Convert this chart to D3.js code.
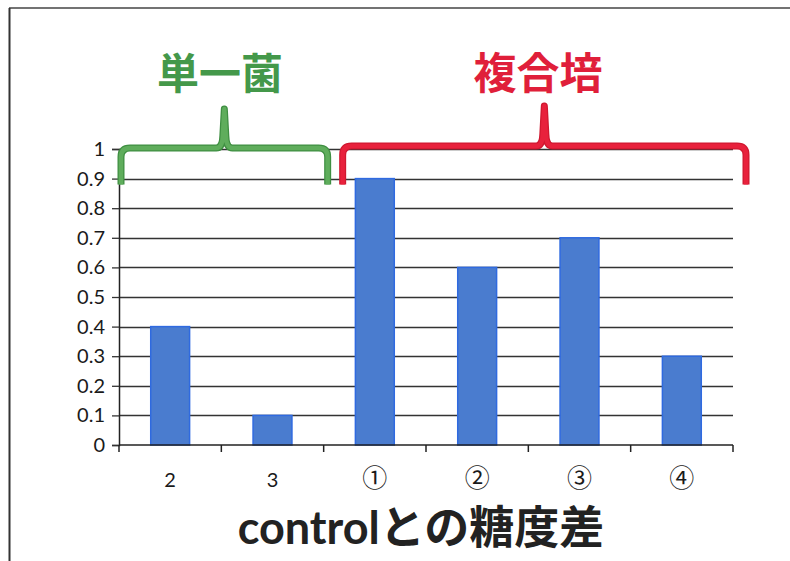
<!DOCTYPE html>
<html>
<head>
<meta charset="utf-8">
<script src="https://cdn.jsdelivr.net/npm/d3@7"></script>
<style>
  html, body { margin: 0; padding: 0; background: #fff; }
  svg { display: block; }
</style>
</head>
<body>
<svg id="chart" width="790" height="561"></svg>
<script>
// Sugar-content difference vs. control, per culture
const categories = ["2", "3", "①", "②", "③", "④"];
const values = [0.4, 0.1, 0.9, 0.6, 0.7, 0.3];
const yTicks = [0, 0.1, 0.2, 0.3, 0.4, 0.5, 0.6, 0.7, 0.8, 0.9, 1];
const groups = [
  { label: "単一菌", from: "2", to: "3", color: "#5fad5c", dark: "#3f8f42", text: "#44984a" },
  { label: "複合培", from: "①", to: "④", color: "#e8213c", dark: "#d01830", text: "#e01f3a" }
];
const axisTitle = "controlとの糖度差";

const svg = d3.select("#chart");
const W = 790, H = 561;
const plot = { left: 119, right: 733, top: 149, bottom: 445 };

// outer frame: top and left edges
svg.append("line").attr("x1", 9).attr("x2", W).attr("y1", 8).attr("y2", 8)
  .attr("stroke", "#444").attr("stroke-width", 1.5);
svg.append("line").attr("x1", 9.5).attr("x2", 9.5).attr("y1", 8).attr("y2", H)
  .attr("stroke", "#333").attr("stroke-width", 2);

const x = d3.scaleBand().domain(categories).range([plot.left, plot.right]).paddingInner(0.62).paddingOuter(0.31);
const xEdge = d3.scaleBand().domain(categories).range([plot.left, plot.right]).padding(0);
const y = d3.scaleLinear().domain([0, 1]).range([plot.bottom, plot.top]);

// gridlines
svg.append("g").selectAll("line").data(yTicks.filter(d => d > 0)).join("line")
  .attr("x1", plot.left).attr("x2", plot.right)
  .attr("y1", d => Math.round(y(d)) + 0.5).attr("y2", d => Math.round(y(d)) + 0.5)
  .attr("stroke", "#333").attr("stroke-width", 1.3);

// bars
svg.append("g").selectAll("rect").data(values).join("rect")
  .attr("x", (d, i) => x(categories[i]))
  .attr("width", x.bandwidth())
  .attr("y", d => y(d))
  .attr("height", d => y(0) - y(d))
  .attr("fill", "#4a7ccf")
  .attr("stroke", "#2f6ae0")
  .attr("stroke-width", 1.5);

// y axis
const yAxis = d3.axisLeft(y).tickValues(yTicks).tickSize(7).tickPadding(7)
  .tickFormat(d => d === 0 ? "0" : d === 1 ? "1" : d3.format(".1f")(d));
const gy = svg.append("g").attr("transform", `translate(${plot.left},0)`).call(yAxis);
gy.select(".domain").attr("stroke", "#222").attr("stroke-width", 1.5);
gy.selectAll(".tick line").attr("stroke", "#333").attr("stroke-width", 1.3);
gy.selectAll("text").attr("font-family", "Lato, 'Open Sans', sans-serif")
  .attr("font-size", 20).attr("fill", "#1a1a1a");

// x axis with ticks at category boundaries
const gx = svg.append("g").attr("transform", `translate(0,${plot.bottom})`);
gx.append("line").attr("x1", plot.left).attr("x2", plot.right).attr("y1", 0).attr("y2", 0)
  .attr("stroke", "#222").attr("stroke-width", 1.5);
const edges = categories.map(c => xEdge(c)).concat([plot.right]);
gx.selectAll("line.tk").data(edges).join("line").attr("class", "tk")
  .attr("x1", d => d).attr("x2", d => d).attr("y1", 0).attr("y2", 7)
  .attr("stroke", "#222").attr("stroke-width", 1.5);
gx.selectAll("text").data(categories).join("text")
  .attr("x", d => xEdge(d) + xEdge.bandwidth() / 2)
  .attr("y", 42)
  .attr("text-anchor", "middle")
  .attr("font-family", d => /^\d$/.test(d) ? "Lato, sans-serif" : "'Noto Sans CJK JP', sans-serif")
  .attr("font-size", d => /^\d$/.test(d) ? 20 : 25)
  .attr("fill", "#1a1a1a")
  .text(d => d);

// axis title
svg.append("text")
  .attr("x", 421).attr("y", 544)
  .attr("text-anchor", "middle")
  .attr("font-family", "Lato, 'Noto Sans CJK JP', sans-serif")
  .attr("font-weight", "bold")
  .attr("font-size", 45)
  .attr("fill", "#222")
  .text(axisTitle);

// curly brackets marking the two culture groups
function bracePath(x0, x1, xm, yh, yb, ytop) {
  const r = 9, w = 8;
  return `M${x0},${yb} L${x0},${yh + r} Q${x0},${yh} ${x0 + r},${yh}` +
    ` L${xm - w},${yh} Q${xm - 2},${yh} ${xm - 1.5},${yh - 12} L${xm},${ytop}` +
    ` L${xm + 1.5},${yh - 12} Q${xm + 2},${yh} ${xm + w},${yh}` +
    ` L${x1 - r},${yh} Q${x1},${yh} ${x1},${yh + r} L${x1},${yb}`;
}
const braceSpec = [
  { x0: xEdge("2") + 2, x1: xEdge("3") + xEdge.bandwidth() + 4, yh: y(1) - 1, yb: y(0.88), ytop: 109, tx: 220, fs: 42 },
  { x0: xEdge("①") + 19, x1: plot.right + 13, yh: y(1) - 3, yb: y(0.88), ytop: 106, tx: 538, fs: 43 }
];
groups.forEach((g, i) => {
  const s = braceSpec[i];
  const xm = (s.x0 + s.x1) / 2;
  const d = bracePath(s.x0, s.x1, xm, s.yh, s.yb, s.ytop);
  svg.append("path").attr("d", d).attr("fill", "none")
    .attr("stroke", g.dark).attr("stroke-width", 7).attr("stroke-linejoin", "round").attr("stroke-linecap", "butt");
  svg.append("path").attr("d", d).attr("fill", "none")
    .attr("stroke", g.color).attr("stroke-width", 4.5).attr("stroke-linejoin", "round").attr("stroke-linecap", "butt");
  svg.append("text")
    .attr("x", s.tx).attr("y", 89)
    .attr("text-anchor", "middle")
    .attr("font-family", "'Noto Sans CJK JP', sans-serif")
    .attr("font-weight", "bold")
    .attr("font-size", s.fs)
    .attr("fill", g.text)
    .text(g.label);
});
</script>
</body>
</html>
